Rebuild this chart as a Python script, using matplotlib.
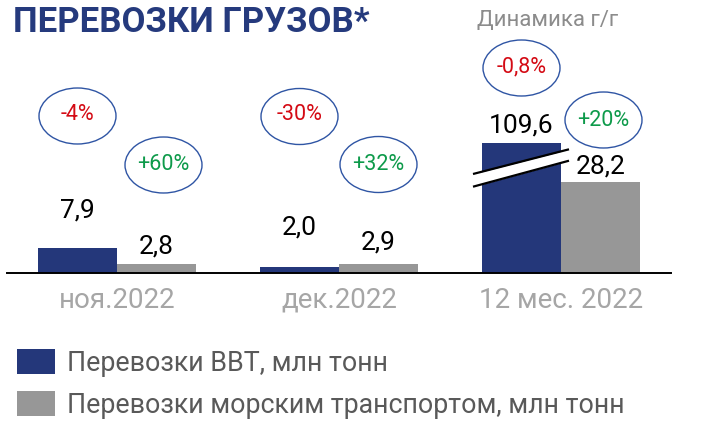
import matplotlib
matplotlib.use("Agg")
import matplotlib.pyplot as plt
from matplotlib.patches import Ellipse
import numpy as np

# ---- data ----
categories = ["ноя.2022", "дек.2022", "12 мес. 2022"]
vvt = [7.9, 2.0, 109.6]          # Перевозки ВВТ, млн тонн
sea = [2.8, 2.9, 28.2]           # Перевозки морским транспортом, млн тонн
vvt_yoy = ["-4%", "-30%", "-0,8%"]
sea_yoy = ["+60%", "+32%", "+20%"]
vvt_labels = ["7,9", "2,0", "109,6"]
sea_labels = ["2,8", "2,9", "28,2"]
series_names = ["Перевозки ВВТ, млн тонн", "Перевозки морским транспортом, млн тонн"]

# ---- style / layout ----
BLUE = "#24377a"
GRAY = "#979797"
RED = "#d40a14"
GREEN = "#0d9a4a"
ELL = "#2f55a4"
FONT = "Roboto"
BREAK_CAP = 40.4          # display height of the broken bar (axis units)
PX = 3.22                 # pixels per unit
W_FIG, H_FIG = 704, 446
BASE = 273.3              # baseline pixel from top
X0, X1 = 7, 671
GROUP_PX = 222
C0 = 117

plt.rcParams['font.family'] = [FONT, 'DejaVu Sans']

fig = plt.figure(figsize=(W_FIG / 100, H_FIG / 100), dpi=100)
ax = fig.add_axes([X0 / W_FIG, (H_FIG - BASE) / H_FIG, (X1 - X0) / W_FIG, BASE / H_FIG])
ax.set_xlim((X0 - C0) / GROUP_PX, (X1 - C0) / GROUP_PX)
ax.set_ylim(0, BASE / PX)
ax.patch.set_alpha(0)

x = np.arange(len(categories))
w = 79 / GROUP_PX
vvt_disp = [min(v, BREAK_CAP) for v in vvt]
sea_disp = [min(v, BREAK_CAP) for v in sea]
b1 = ax.bar(x - w / 2, vvt_disp, width=w, color=BLUE, label=series_names[0], zorder=2)
b2 = ax.bar(x + w / 2, sea_disp, width=w, color=GRAY, label=series_names[1], zorder=2)

for s in ["top", "right", "left"]:
    ax.spines[s].set_visible(False)
ax.spines["bottom"].set_linewidth(1.4)
ax.spines["bottom"].set_color("black")
ax.spines["bottom"].set_zorder(3)
ax.set_yticks([])
ax.set_xticks([])

# category labels
for xi, c in zip(x, categories):
    ax.text(xi, -27 / PX, c, ha="center", va="center", fontsize=20,
            color="#a6a6a6", clip_on=False)

# value labels (offsets in px above bar top)
vvt_off = [37, 39, 18]
sea_off = [18, 21, 16]
for xi, h, lab, off in zip(x, vvt_disp, vvt_labels, vvt_off):
    ax.text(xi - w / 2, h + off / PX, lab, ha="center", va="center", fontsize=19, color="black")
for xi, h, lab, off in zip(x, sea_disp, sea_labels, sea_off):
    ax.text(xi + w / 2, h + off / PX, lab, ha="center", va="center", fontsize=19, color="black")

# break marks on the capped bar
for xi, v in zip(x, vvt):
    if v > BREAK_CAP:
        xs = np.array([473, 569])
        xs_d = (xs - C0) / GROUP_PX
        up = (BASE - np.array([174, 149.3])) / PX
        lo = (BASE - np.array([186.7, 160.7])) / PX
        ax.fill_between(xs_d, lo, up, color="white", zorder=4, lw=0)
        ax.plot(xs_d, up, color="black", lw=1.6, zorder=5, solid_capstyle="butt")
        ax.plot(xs_d, lo, color="black", lw=1.6, zorder=5, solid_capstyle="butt")

# yoy ellipses (centre pixel y positions)
vvt_ell_y = [116, 116.5, 68]
sea_ell_y = [165, 164.5, 120]
sea_ell_dx = [7, 0, 3]
ew, eh = 77 / GROUP_PX, 56 / PX
for xi, t, yy in zip(x, vvt_yoy, vvt_ell_y):
    cx, cy = xi - w / 2, (BASE - yy) / PX
    ax.add_patch(Ellipse((cx, cy), ew, eh, fill=False, ec=ELL, lw=1.0, clip_on=False))
    ax.text(cx, cy + 1.5 / PX, t, ha="center", va="center", fontsize=15.5, color=RED)
for xi, t, yy, dx in zip(x, sea_yoy, sea_ell_y, sea_ell_dx):
    cx, cy = xi + w / 2 + dx / GROUP_PX, (BASE - yy) / PX
    ax.add_patch(Ellipse((cx, cy), ew, eh, fill=False, ec=ELL, lw=1.0, clip_on=False))
    ax.text(cx, cy, t, ha="center", va="center", fontsize=15.5, color=GREEN)

# title and subtitle
fig.text(13 / W_FIG, 1 - 32 / H_FIG, "ПЕРЕВОЗКИ ГРУЗОВ*", fontsize=25, fontweight="bold",
         color="#253a7d", ha="left", va="baseline")
fig.text(548 / W_FIG, 1 - 21 / H_FIG, "Динамика г/г", fontsize=16, color="#8c8c8c",
         ha="center", va="center")

# legend
fig.legend(handles=[b1, b2], loc="upper left", bbox_to_anchor=(16.7 / W_FIG, 1 - 349 / H_FIG),
           frameon=False, borderpad=0, borderaxespad=0, fontsize=19.3, handlelength=1.42,
           handleheight=1.08, handletextpad=0.45, labelspacing=0.52, labelcolor="#595959")

fig.savefig("out.png", dpi=100)
